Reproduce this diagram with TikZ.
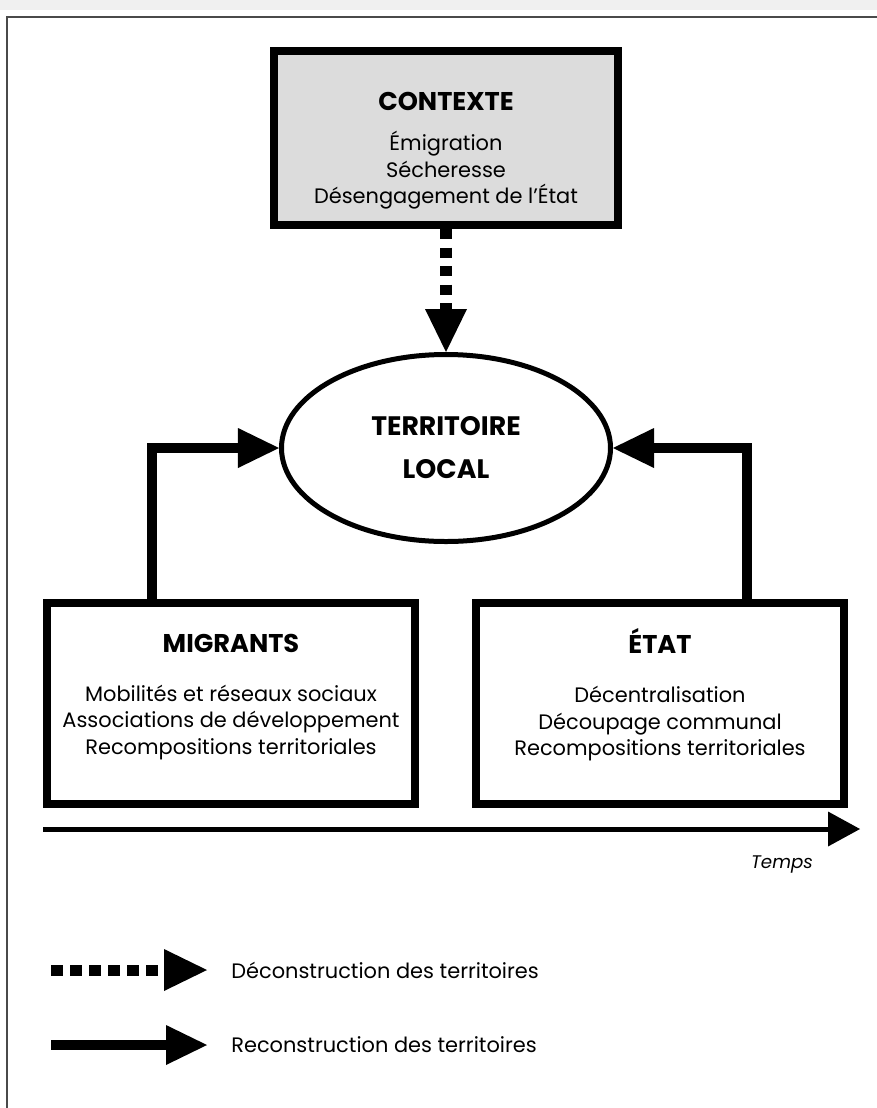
\documentclass[tikz,border=0pt]{standalone}
\usepackage{fontspec}
\setmainfont{Poppins}
\usepackage{tikz}
\usetikzlibrary{arrows.meta, positioning, calc, shapes.geometric}

\definecolor{ctxgray}{HTML}{DCDCDC}
\definecolor{framegray}{HTML}{4A4A4A}

\newcommand{\bodyfont}{\fontsize{11.9pt}{15.2pt}\selectfont}
\newcommand{\titlefont}{\fontsize{14.6pt}{15.2pt}\selectfont\bfseries}
\newcommand{\terrfont}{\fontsize{15.2pt}{24.5pt}\selectfont\bfseries}

\tikzset{
    ctxbox/.style={draw=black, fill=ctxgray, line width=1.6mm,
        minimum width=68.8mm, minimum height=34.8mm, inner sep=0pt},
    actorbox/.style={draw=black, fill=white, line width=1.6mm,
        minimum width=73.6mm, minimum height=40.2mm, inner sep=0pt},
    boxtext/.style={align=center, inner sep=0pt, font=\bodyfont},
    legtext/.style={anchor=west, inner sep=0pt, font=\bodyfont},
    decon/.style={line width=2.4mm, dash pattern=on 2mm off 1.7mm,
        -{Triangle[width=8.4mm, length=8.6mm, line width=0pt]}},
    recon/.style={line width=2mm,
        -{Triangle[width=8mm, length=8.2mm, line width=0pt]}},
}

\begin{document}
\begin{tikzpicture}[%
    x=0.2mm, y=-0.2mm,      % one unit = one pixel of the page
    line join=miter,        % square corners on the elbows
    every node/.style={text=black}
]
    \useasboundingbox (0,0) rectangle (877,1108);

    % ==========================================
    % 0. Frame
    % ==========================================
    \fill[gray!12] (0,0) rectangle (877,10);
    \draw[framegray, line width=0.4mm] (877,17) -- (7,17) -- (7,1108);

    % ==========================================
    % 1. Boxes and the territory
    % ==========================================
    \node[ctxbox] (contexte) at (446,138) {};
    \node[boxtext] (contexte-txt) at (446,151)
        {{\titlefont CONTEXTE}\\[7.4pt]
         Émigration\\ Sécheresse\\ Désengagement de l’État};

    \node[ellipse, draw=black, line width=1mm, minimum width=65.8mm,
          minimum height=37.4mm, inner sep=0pt, align=center,
          font=\terrfont] (territoire) at (446,448)
        {TERRITOIRE\\ LOCAL};

    \node[actorbox] (migrants) at (231,703.5) {};
    \node[boxtext] (migrants-txt) at (231,697)
        {{\titlefont MIGRANTS}\\[12.5pt]
         Mobilités et réseaux sociaux\\ Associations de développement\\
         Recompositions territoriales};

    \node[actorbox] (etat) at (660,703.5) {};
    \node[boxtext] (etat-txt) at (660,695)
        {{\titlefont ÉTAT}\\[12.5pt]
         Décentralisation\\ Découpage communal\\
         Recompositions territoriales};

    % ==========================================
    % 2. Arrows towards the territory
    % ==========================================
    \draw[decon] (contexte.south) -- (territoire.north);
    \draw[recon] ([xshift=-15.8mm]migrants.north) |- (territoire.west);
    \draw[recon] ([xshift=17.4mm]etat.north) |- (territoire.east);

    % ==========================================
    % 3. Time axis
    % ==========================================
    \coordinate (t-start) at (43,829);
    \coordinate (t-end) at (860,829);
    \draw[line width=1mm, -{Triangle[width=7mm, length=6.4mm, line width=0pt]}]
        (t-start) -- (t-end);
    \node[font=\fontsize{10.4pt}{12pt}\selectfont\itshape, inner sep=0pt]
        (temps) at (782,864) {Temps};

    % ==========================================
    % 4. Legend
    % ==========================================
    \coordinate (dec-start) at (51,970);
    \coordinate (dec-end) at (207,970);
    \draw[decon, line width=2.2mm, dash pattern=on 2.4mm off 1.4mm]
        (dec-start) -- (dec-end);
    \node[legtext, right=4.8mm of dec-end] (dec-txt) {Déconstruction des territoires};

    \coordinate (rec-start) at (51,1045);
    \coordinate (rec-end) at (207,1045);
    \draw[recon] (rec-start) -- (rec-end);
    \node[legtext, right=4.8mm of rec-end] (rec-txt) {Reconstruction des territoires};

\end{tikzpicture}
\end{document}
